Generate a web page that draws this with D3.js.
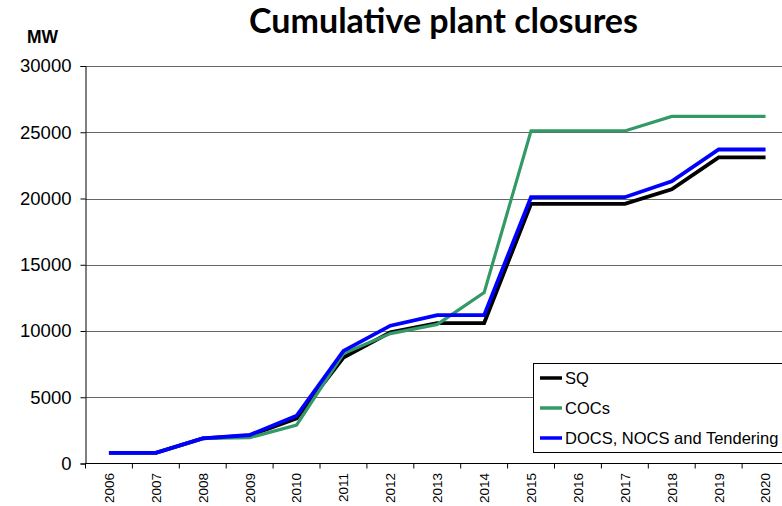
<!DOCTYPE html>
<html><head><meta charset="utf-8">
<script src="https://cdn.jsdelivr.net/npm/d3@7"></script>
<style>body{margin:0;background:#fff;overflow:hidden}svg{display:block}</style>
</head><body>
<svg id="c" width="782" height="506"></svg>
<script>
const years = ["2006","2007","2008","2009","2010","2011","2012","2013","2014","2015","2016","2017","2018","2019","2020"];
const sq    = [800,800,1900,2100,3400,8000,9900,10600,10600,19600,19600,19600,20700,23100,23100];
const cocs  = [800,800,1900,1950,2900,8300,9800,10500,12900,25100,25100,25100,26200,26200,26200];
const docs  = [800,800,1900,2150,3600,8500,10400,11200,11200,20100,20100,20100,21300,23700,23700];
const yTicks = [0,5000,10000,15000,20000,25000,30000];
const seriesNames = ["SQ","COCs","DOCS, NOCS and Tendering"];
const seriesColors = ["#000000","#339966","#0000ff"];

const svg = d3.select("#c");
const pL = 85.5, pR = 789, pT = 66, pB = 463.5;
const x = d3.scaleBand().domain(years).range([pL, pR]);
const y = d3.scaleLinear().domain([0,30000]).range([pB, pT]);

// gridlines
svg.append("g").selectAll("line").data(yTicks.slice(1)).join("line")
  .attr("x1", pL).attr("x2", 782).attr("y1", d=>Math.round(y(d))+0.5).attr("y2", d=>Math.round(y(d))+0.5)
  .attr("stroke","#666").attr("stroke-width",1);

// y axis
const ya = svg.append("g").attr("transform",`translate(${pL},0)`)
  .call(d3.axisLeft(y).tickValues(yTicks).tickSize(5).tickPadding(9).tickFormat(d3.format("d")));
ya.select(".domain").attr("stroke","#000");
ya.selectAll("text").attr("font-family","Liberation Sans, Arial").attr("font-size",18.5).attr("fill","#000");

// x axis
const xa = svg.append("g").attr("transform",`translate(0,${pB})`)
  .call(d3.axisBottom(x).tickSize(0).tickPadding(0));
xa.select(".domain").remove();
svg.append("line").attr("x1",pL).attr("x2",782).attr("y1",pB).attr("y2",pB).attr("stroke","#000");
svg.append("g").selectAll("line").data(years.concat(["end"])).join("line")
  .attr("x1",(d,i)=>pL + i*x.step()).attr("x2",(d,i)=>pL + i*x.step())
  .attr("y1",pB).attr("y2",pB+5).attr("stroke","#000");
xa.selectAll("text")
  .attr("font-family","Liberation Sans, Arial").attr("font-size",13.5).attr("fill","#000")
  .attr("text-anchor","end").attr("dy","0.36em")
  .attr("transform","translate(0,9.5) rotate(-90)").attr("x",0).attr("y",0);

// lines
const line = d3.line().x((d,i)=>x(years[i])+x.bandwidth()/2).y(d=>y(d));
[sq,cocs,docs].forEach((s,i)=>{
  svg.append("path").datum(s).attr("d",line).attr("fill","none")
    .attr("stroke",seriesColors[i]).attr("stroke-width",i===1?3.2:3.8).attr("stroke-linejoin","miter");
});

// title
svg.append("text").attr("x",443.5).attr("y",33).attr("text-anchor","middle")
  .attr("font-family","Lato, Open Sans, sans-serif").attr("font-weight","bold").attr("font-size",34)
  .text("Cumulative plant closures");
svg.append("text").attr("x",27).attr("y",43).attr("font-family","Liberation Sans, Arial")
  .attr("font-weight","bold").attr("font-size",17.5).text("MW");

// legend
const lg = svg.append("g");
lg.append("rect").attr("x",533.5).attr("y",363.5).attr("width",260).attr("height",89)
  .attr("fill","#fff").attr("stroke","#000").attr("stroke-width",1);
seriesNames.forEach((n,i)=>{
  const yy = 378 + i*30;
  lg.append("line").attr("x1",540).attr("x2",562).attr("y1",yy).attr("y2",yy)
    .attr("stroke",seriesColors[i]).attr("stroke-width",3.5);
  lg.append("text").attr("x",565).attr("y",yy).attr("dy","0.36em")
    .attr("font-family","Liberation Sans, Arial").attr("font-size",16.5).text(n);
});
</script>
</body></html>
